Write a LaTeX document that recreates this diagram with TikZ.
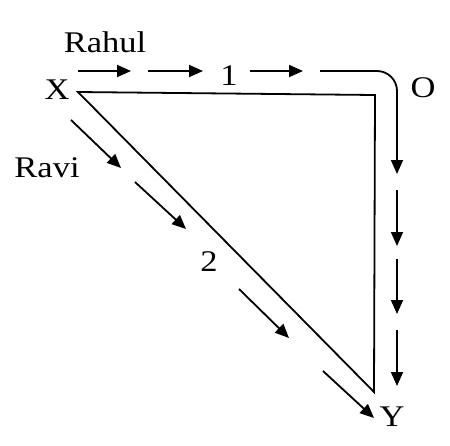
\documentclass[tikz,border=0pt]{standalone}
\usepackage{fontspec}
\setmainfont{Liberation Serif}
\usetikzlibrary{arrows.meta}
\begin{document}
\begin{tikzpicture}[x=1pt,y=-1pt,
  lbl/.style={inner sep=0pt,font=\fontsize{30}{32}\selectfont},
  edge/.style={line width=1.8pt,line join=miter},
  flow/.style={line width=1.8pt,-{Triangle[length=14pt,width=12pt]}}]
\useasboundingbox (0,0) rectangle (450,445);
% corners
\coordinate (cx) at (78,92);
\coordinate (co) at (375,95);
\coordinate (cy) at (374,392);
\draw[edge] (cx) -- (co) -- (cy) -- cycle;
% labels
\node[lbl] (rahul) at (105,42) {\scalebox{1.15}[1]{Rahul}};
\node[lbl] (X) at (57,90) {\scalebox{1.15}[1]{X}};
\node[lbl] (O) at (423,88) {\scalebox{1.15}[1]{O}};
\node[lbl] (ravi) at (47,168) {\scalebox{1.15}[1]{Ravi}};
\node[lbl] (one) at (229,76) {\scalebox{1.15}[1]{1}};
\node[lbl] (two) at (209,262) {\scalebox{1.15}[1]{2}};
\node[lbl] (Y) at (392,417) {\scalebox{1.15}[1]{Y}};
% Rahul path
\coordinate (r1a) at (78,71);  \coordinate (r1b) at (131,71);
\coordinate (r2a) at (148,71); \coordinate (r2b) at (203,71);
\coordinate (r3a) at (250,71); \coordinate (r3b) at (303,71);
\coordinate (r4a) at (320,71); \coordinate (r4c) at (377,71);
\coordinate (r4b) at (397,174);
\coordinate (r5a) at (397,190); \coordinate (r5b) at (397,246);
\coordinate (r6a) at (397,259); \coordinate (r6b) at (397,314);
\coordinate (r7a) at (397,330); \coordinate (r7b) at (397,386);
\draw[flow] (r1a) -- (r1b);
\draw[flow] (r2a) -- (r2b);
\draw[flow] (r3a) -- (r3b);
\draw[flow] (r4a) -- (r4c) arc[start angle=-90,end angle=0,radius=20] -- (r4b);
\draw[flow] (r5a) -- (r5b);
\draw[flow] (r6a) -- (r6b);
\draw[flow] (r7a) -- (r7b);
% Ravi path
\coordinate (v1a) at (71,120);  \coordinate (v1b) at (121,168);
\coordinate (v2a) at (135,182); \coordinate (v2b) at (186,229);
\coordinate (v3a) at (239,289); \coordinate (v3b) at (289,338);
\coordinate (v4a) at (323,371); \coordinate (v4b) at (374,418);
\draw[flow] (v1a) -- (v1b);
\draw[flow] (v2a) -- (v2b);
\draw[flow] (v3a) -- (v3b);
\draw[flow] (v4a) -- (v4b);
\end{tikzpicture}
\end{document}
